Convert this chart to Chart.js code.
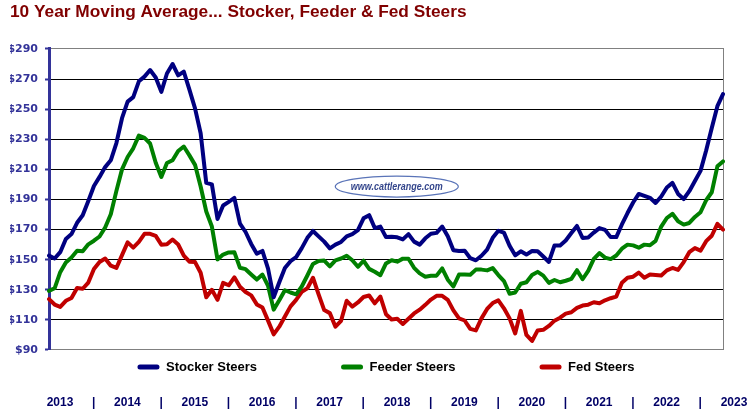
<!DOCTYPE html>
<html>
<head>
<meta charset="utf-8">
<script src="https://cdn.jsdelivr.net/npm/chart.js@4.4.1/dist/chart.umd.min.js"></script>
<style>
html,body{margin:0;padding:0;background:#ffffff;}
#wrap{width:751px;height:415px;}
</style>
</head>
<body>
<div id="wrap"><canvas id="c" width="751" height="415"></canvas></div>
<script>
// ---- data (monthly, Jan 2013 .. Jan 2023) ----
const years = [2013, 2014, 2015, 2016, 2017, 2018, 2019, 2020, 2021, 2022];
const monthNames = ['Jan','Feb','Mar','Apr','May','Jun','Jul','Aug','Sep','Oct','Nov','Dec'];
const categories = [];
years.forEach(y => monthNames.forEach(m => categories.push(m + ' ' + y)));
categories.push('Jan 2023');

const stockerSteers = [
  152.7,150.8,155,163.8,167,174.5,179.5,189,199,205,
  211.5,216,227.5,244,255,258,268.5,271.6,276,271,
  261.5,273.7,280,272.5,275,263,250.5,234,201,200,
  177,186,188.4,191,174,168.4,160.5,154,155.8,144,
  125,135,144.5,149,151.7,157.7,164.5,169.1,165.5,162,
  157.5,160,161.8,165.5,167,169.7,177.5,179.6,171,172,
  165,165.3,164.9,163.5,167,162,160,164.2,167.2,167.8,
  172,165.5,156.3,155.8,156,151,149.6,152.6,156.7,164.5,
  169.2,168,159.3,152.9,155.6,153.4,155.8,155.6,152.1,148.5,
  159.5,159.5,162.8,167.7,172.4,164.4,164.8,168,171,169.8,
  165,165,173.4,181,188,193.7,192.4,191.1,187.7,192,
  198,201,193.7,190.3,195.5,202.3,209,222.5,237.5,252,260
];
const feederSteers = [
  129.3,131,141.7,148.2,151.5,156,155.6,160.2,162.6,165.4,
  171.4,180.2,195.7,210,218.2,224,232.4,230.9,227.2,214.4,
  205,214.2,216.1,222.2,225.2,219.3,213,198.6,182,172,
  150.2,153.4,154.8,155,144.6,143.7,140.2,136.8,140.1,132.7,
  116.8,123,129.7,128.2,127,132.2,139.5,147.2,149.2,149.4,
  145.6,149.6,150.8,152.6,149.6,145.3,149.3,143.9,142,139.7,
  147.5,149.6,148.7,150.7,150.6,144.6,140.9,138.7,139.3,139.4,
  144.2,136.7,132.2,140.1,140.2,140,143.4,143.4,142.9,144.4,
  139.8,135.8,127.4,128.2,134,135,139.8,141.9,139.4,134.6,
  136.5,135,136,137.3,143,137,142.6,150.5,154.4,151.4,
  150.4,152.8,157.3,160,159.5,158,160,159.6,162.5,172,
  177.7,180.5,175.5,173.3,174.4,178.4,181.5,189.5,194.8,212,215.3
];
const fedSteers = [
  123.8,120.2,118.6,122.7,124.5,131.2,130.7,134.8,143.8,148.5,
  150.8,146,144.5,153,161.5,158,161.8,167.2,167.2,165.8,
  160,160.2,163.4,160.1,152.7,148.7,148.4,141.3,125,130,
  123.3,134.6,133,138.3,132,128.5,126.3,120.3,118.2,109.5,
  100.4,105.5,112.2,119,123.3,128.6,131,138,127,116.5,
  114.5,105.5,109.4,122.7,118.8,121.6,125.2,126.2,121,125.5,
  113.8,110.3,110.7,107.3,110.8,114.3,116.8,120,123.5,126,
  126,123.3,116.3,111,109.6,104,103,111,117.3,121.2,
  123,117.7,111,101,116,100,96,103,103.4,106,
  109.5,111.5,114.2,115.1,118,119.5,120.1,121.7,121,123,
  124.4,125.5,134.7,138,138.7,141.4,138,140.2,139.9,139.5,
  142.9,144.5,143.2,148.4,155,157.7,156,162.3,165.9,173.8,170
];

const seriesNames = ['Stocker Steers', 'Feeder Steers', 'Fed Steers'];
const yTickValues = [90, 110, 130, 150, 170, 190, 210, 230, 250, 270, 290];
const yearTickLabels = ['2013','|','2014','|','2015','|','2016','|','2017','|','2018','|',
                        '2019','|','2020','|','2021','|','2022','|','2023'];
const titleText = '10 Year Moving Average... Stocker, Feeder & Fed Steers';
const watermarkText = 'www.cattlerange.com';

// ---- styles ----
const colors = ['#000080', '#008000', '#C00000'];
const axisBlue = '#333399';

const tweaks = {
  id: 'tweaks',
  afterLayout(chart) {
    const L = chart.legend;
    if (L) {
      const P = L.options.labels.padding;
      L.top = L.bottom - P - 23.5;
    }
  },
  beforeDatasetsDraw(chart) {
    const {ctx, scales} = chart;
    const cx = scales.yr.getPixelForValue(2018.16);
    const cy = scales.y.getPixelForValue(198.6);
    ctx.save();
    ctx.beginPath();
    ctx.ellipse(cx, cy, 61.5, 10.5, 0, 0, Math.PI * 2);
    ctx.fillStyle = '#ffffff';
    ctx.fill();
    ctx.strokeStyle = '#5a74b8';
    ctx.lineWidth = 1.2;
    ctx.stroke();
    ctx.font = 'italic bold 11px "Liberation Sans Narrow", "Liberation Sans", Arial, sans-serif';
    ctx.fillStyle = '#34468c';
    ctx.textAlign = 'center';
    ctx.textBaseline = 'middle';
    const w = ctx.measureText(watermarkText).width;
    ctx.translate(cx, cy);
    ctx.scale(Math.min(1, 92 / w), 1);
    ctx.fillText(watermarkText, 0, 0);
    ctx.restore();
  }
};

new Chart(document.getElementById('c'), {
  type: 'line',
  data: {
    labels: categories,
    datasets: [
      {label: seriesNames[0], data: stockerSteers, borderColor: colors[0], backgroundColor: colors[0]},
      {label: seriesNames[1], data: feederSteers, borderColor: colors[1], backgroundColor: colors[1]},
      {label: seriesNames[2], data: fedSteers, borderColor: colors[2], backgroundColor: colors[2]}
    ].map(d => Object.assign(d, {
      borderWidth: 4, pointRadius: 0, tension: 0, fill: false,
      borderJoinStyle: 'round', borderCapStyle: 'round', xAxisID: 'x', yAxisID: 'y'
    }))
  },
  options: {
    responsive: false,
    animation: false,
    events: [],
    layout: {padding: {left: 10, right: 28, top: 0, bottom: 4.6}},
    scales: {
      x: {type: 'category', display: false},
      yr: {
        type: 'linear', position: 'bottom', weight: 2000,
        min: 2013, max: 2023,
        afterBuildTicks(s) { s.ticks = yearTickLabels.map((t, i) => ({value: 2013 + i * 0.5})); },
        afterFit(s) { s.height = 26.4; },
        grid: {display: false, drawTicks: false}, border: {display: false},
        ticks: {
          autoSkip: false, maxRotation: 0, minRotation: 0, padding: 11, labelOffset: 11,
          color: '#000066',
          font: {family: '"Liberation Sans", Arial, sans-serif', size: 12, weight: 'bold'},
          callback: (v, i) => yearTickLabels[i]
        }
      },
      y: {
        type: 'linear', position: 'left', min: 90, max: 290,
        afterFit(s) { s.width = 39; },
        afterBuildTicks(s) { s.ticks = yTickValues.map(v => ({value: v})); },
        grid: {
          color: c => (c.tick && (c.tick.value === 290 || c.tick.value === 90)) ? '#808080' : '#000000',
          lineWidth: 1, drawTicks: true, tickLength: 4, tickColor: axisBlue, tickWidth: 2
        },
        border: {display: true, color: axisBlue, width: 3},
        ticks: {
          padding: 7, color: axisBlue,
          font: {family: '"DejaVu Sans", Verdana, sans-serif', size: 11, weight: 'bold'},
          callback: v => '$' + v
        }
      },
      y2: {
        type: 'linear', position: 'right', min: 90, max: 290,
        afterFit(s) { s.width = 0; },
        grid: {display: false, drawTicks: false},
        ticks: {display: false},
        border: {display: true, color: '#808080', width: 1}
      }
    },
    plugins: {
      title: {
        display: true, text: titleText, align: 'start', color: '#800000',
        font: {family: '"Liberation Sans", Arial, sans-serif', size: 17.3, weight: 'bold'},
        padding: {top: 2, bottom: 26.2}
      },
      legend: {
        display: true, position: 'bottom', fullSize: false, maxHeight: 34,
        labels: {
          boxWidth: 22, boxHeight: 5, padding: 84, color: axisBlue,
          font: {family: '"Liberation Sans", Arial, sans-serif', size: 13, weight: 'bold'},
          generateLabels: chart => chart.data.datasets.map((ds, i) => ({
            text: ds.label, fillStyle: ds.borderColor, strokeStyle: ds.borderColor,
            lineWidth: 0, hidden: false, datasetIndex: i, borderRadius: 2.5
          }))
        }
      },
      tooltip: {enabled: false}
    }
  },
  plugins: [tweaks]
});
</script>
</body>
</html>
